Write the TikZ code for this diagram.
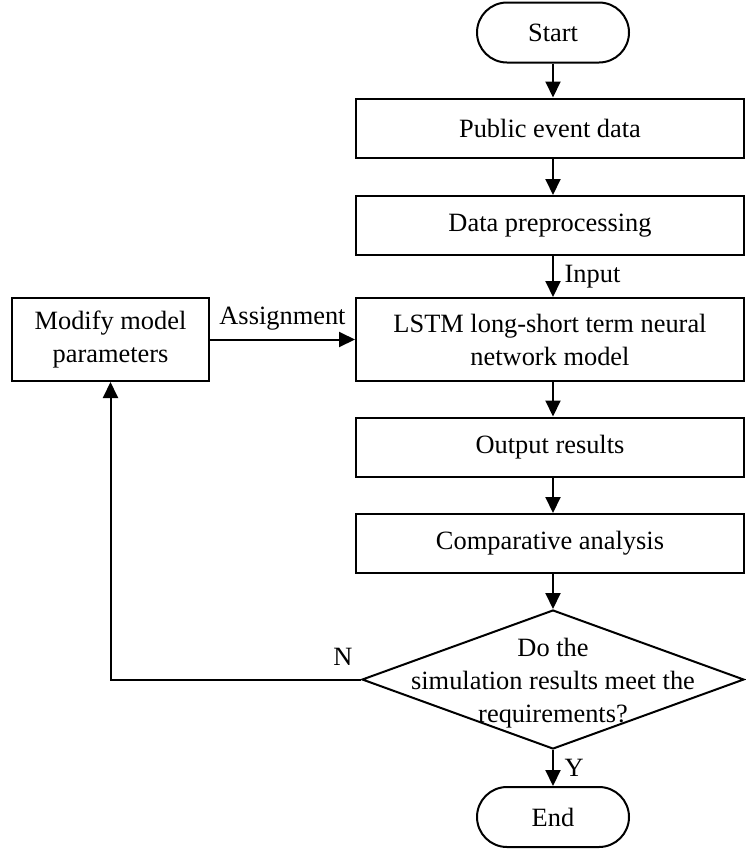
\documentclass[tikz,border=0pt]{standalone}
\usepackage{fontspec}
\setmainfont{Liberation Serif}
\usetikzlibrary{shapes.geometric,shapes.misc,arrows.meta}
\begin{document}
\begin{tikzpicture}[x=0.5pt, y=-0.5pt, line width=1pt,
    font=\fontsize{13.2}{16.5}\selectfont,
    box/.style={draw, rectangle, minimum width=194pt, minimum height=29.5pt, inner sep=0pt, align=center},
    term/.style={draw, rounded rectangle, minimum width=76pt, minimum height=30pt, inner sep=0pt},
    arr/.style={-{Triangle[length=8pt,width=7.5pt]}}]
            \useasboundingbox (0,0) rectangle (745,852);
            \node[term] (start) at (553,32.5) {Start};
            \node[box] (pub) at (550,128) {Public event data};
            \node[box] (pre) at (550,225.5) {Data preprocessing};
            \node[box, minimum height=41.5pt] (lstm) at (550,339.5) {LSTM long-short term neural\\network model};
            \node[box, minimum width=98.5pt, minimum height=41.5pt] (mod) at (110.5,339.5) {Modify model\\parameters};
            \node[box] (out) at (550,447) {Output results};
            \node[box] (cmp) at (550,543.5) {Comparative analysis};
            \node[draw, diamond, minimum width=191pt, minimum height=69.5pt, inner sep=0pt] (dec) at (553,679.5) {};
            \node[align=center] (q) at ([yshift=-2pt]dec.center) {Do the\\simulation results meet the\\requirements?};
            \node[term] (end) at (553,817) {End};
            \draw[arr] (start.south) -- (start.south |- pub.north);
            \draw[arr] (start.south |- pub.south) -- (start.south |- pre.north);
            \draw[arr] (start.south |- pre.south) -- (start.south |- lstm.north)
                node[midway, right, xshift=2pt] (in) {Input};
            \draw[arr] (mod.east) -- (lstm.west)
                node[midway, above, yshift=1pt] (asg) {Assignment};
            \draw[arr] (start.south |- lstm.south) -- (start.south |- out.north);
            \draw[arr] (start.south |- out.south) -- (start.south |- cmp.north);
            \draw[arr] (start.south |- cmp.south) -- (dec.north);
            \draw[arr] (dec.west) -- (mod.south |- dec.west) -- (mod.south);
                \node (n) at (343,657) {N};
            \draw[arr] (dec.south) -- (end.north)
                node[midway, right, xshift=2pt] (y) {Y};
        \end{tikzpicture}
\end{document}
